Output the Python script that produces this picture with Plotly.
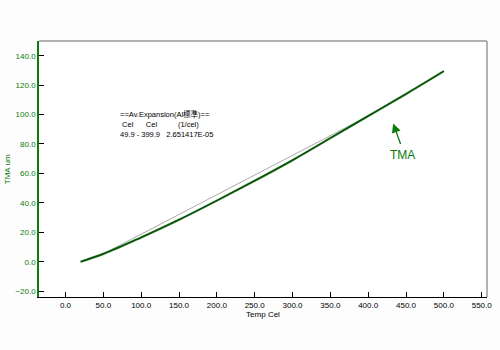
import plotly.graph_objects as go

temp = [20, 50, 100, 150, 200, 250, 300, 350, 400, 450, 500]
tma = [0.0, 5.3, 16.5, 28.5, 41.5, 55.0, 69.0, 84.0, 99.0, 114.0, 129.5]
chord_x = [49.9, 399.9]
chord_y = [5.3, 99.0]
x_ticks = [0, 50, 100, 150, 200, 250, 300, 350, 400, 450, 500, 550]
y_ticks = [-20, 0, 20, 40, 60, 80, 100, 120, 140]

green = "#0a7a0a"
font = "Liberation Sans, Arial, sans-serif"

fig = go.Figure()
fig.add_trace(go.Scatter(x=chord_x, y=chord_y, mode="lines",
                         line=dict(color="#aaaaaa", width=1), hoverinfo="skip"))
fig.add_trace(go.Scatter(x=temp, y=tma, mode="lines", line_shape="spline",
                         line=dict(color="#1a7a1a", width=2.2)))
fig.add_trace(go.Scatter(x=temp, y=tma, mode="lines", line_shape="spline",
                         line=dict(color="#103010", width=0.8)))

fig.update_layout(
    width=500, height=350,
    margin=dict(l=39, r=13, t=41, b=53, autoexpand=False),
    paper_bgcolor="#fdfdfd", plot_bgcolor="#ffffff",
    showlegend=False,
    font=dict(family=font, size=8, color="#000000"),
    xaxis=dict(range=[-35, 557], tickvals=x_ticks, tickformat=".1f",
               ticks="inside", ticklen=5, tickcolor="#000000", automargin=False,
               showline=True, linecolor="#000000", linewidth=1,
               showgrid=False, zeroline=False,
               title=dict(text="Temp Cel", font=dict(size=8), standoff=0)),
    yaxis=dict(range=[-24, 150], tickvals=y_ticks, tickformat=".1f",
               ticks="inside", ticklen=5, tickcolor="#000000", automargin=False,
               tickfont=dict(color=green, size=8),
               showline=True, linecolor=green, linewidth=1.5,
               showgrid=False, zeroline=False),
    shapes=[
        dict(type="line", xref="paper", yref="paper", x0=0, x1=1, y0=1, y1=1,
             line=dict(color="#999999", width=1.5)),
        dict(type="line", xref="paper", yref="paper", x0=1, x1=1, y0=0, y1=1,
             line=dict(color="#999999", width=1.5)),
    ],
)

fig.add_annotation(x=-0.071, y=0.5, xref="paper", yref="paper", text="TMA um",
                   textangle=-90, showarrow=False, xanchor="center", yanchor="middle",
                   font=dict(family=font, size=8, color=green))
fig.add_annotation(x=0.176, y=0.676, xref="paper", yref="paper", xanchor="left", yanchor="middle",
                   text="==Av.Expansion(Al標準)==<br> Cel      Cel          (1/cel)<br>49.9 - 399.9   2.651417E-05",
                   showarrow=False, align="left",
                   font=dict(family=font + ", Noto Sans CJK JP", size=7.5, color="#000000"))
fig.add_annotation(x=433, y=94, xref="x", yref="y", ax=443.5, ay=79, axref="x", ayref="y",
                   text="", showarrow=True, arrowhead=2, arrowsize=1.4, arrowwidth=1.3,
                   arrowcolor=green)
fig.add_annotation(x=445, y=72.5, xref="x", yref="y", text="TMA", showarrow=False,
                   font=dict(family=font, size=12, color=green))

fig.write_html("out.html")
